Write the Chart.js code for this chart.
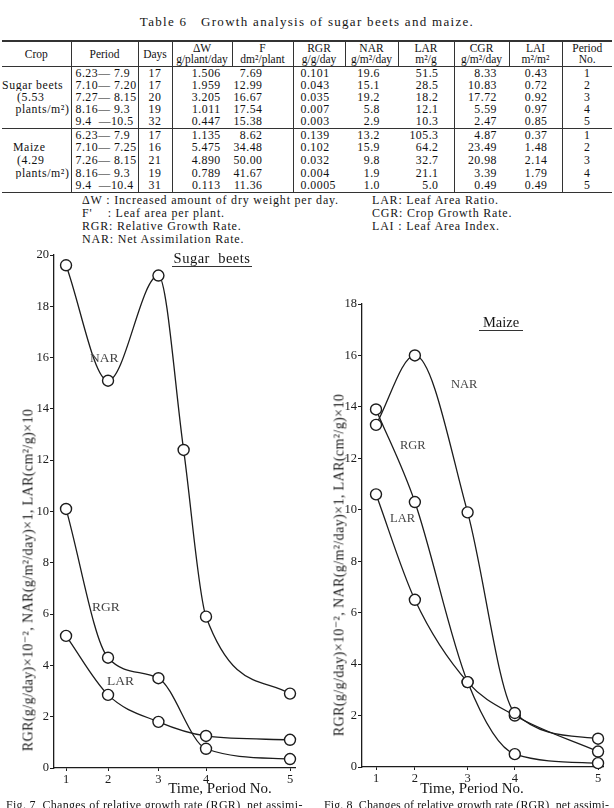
<!DOCTYPE html>
<html>
<head>
<meta charset="utf-8">
<script src="https://cdn.jsdelivr.net/npm/chart.js@4.4.1/dist/chart.umd.min.js"></script>
<style>
  body { margin: 0; width: 614px; height: 808px; position: relative; overflow: hidden; background: #fff;
         font-family: "Liberation Serif", "DejaVu Serif", serif; color: #151515; }
  .t { position: absolute; white-space: pre; line-height: 14px; }
  #tbl { position: absolute; left: 2px; top: 40px; width: 610px; border-collapse: collapse; table-layout: fixed;
         font-size: 11.8px; letter-spacing: 0.5px; border-top: 2px solid #333; border-bottom: 1.5px solid #333; color: #111; }
  #tbl td, #tbl th { padding: 0; font-weight: normal; white-space: pre; line-height: 11px; overflow: hidden; }
  #tbl th { height: 24px; text-align: center; border-bottom: 1px solid #333; border-left: 1px solid #333;
            letter-spacing: 0; font-size: 11.5px; }
  #tbl th:first-child { border-left: none; }
  #tbl tr.b td { height: 12.2px; }
  #tbl tr.m td { height: 12.6px; }
  #tbl tr.sep td { border-top: 1px solid #333; }
  .bl { border-left: 1px solid #333; }
  canvas { position: absolute; }
  .rot { position: absolute; white-space: pre; font-size: 14px; letter-spacing: 0.4px; transform: translate(-50%, -50%) rotate(-90deg); }
</style>
</head>
<body>

<div class="t" id="ttl" style="left:0;width:614px;top:15px;text-align:center;font-size:13px;letter-spacing:1.3px;">Table 6   Growth analysis of sugar beets and maize.</div>

<table id="tbl">
  <colgroup>
    <col style="width:69px"><col style="width:67px"><col style="width:34px"><col style="width:60px">
    <col style="width:61px"><col style="width:52px"><col style="width:53px"><col style="width:56px">
    <col style="width:55px"><col style="width:53px"><col style="width:50px">
  </colgroup>
  <thead><tr>
    <th>Crop</th><th>Period</th><th>Days</th><th>ΔW<br>g/plant/day</th><th>F<br>dm²/plant</th>
    <th>RGR<br>g/g/day</th><th>NAR<br>g/m²/day</th><th>LAR<br>m²/g</th><th>CGR<br>g/m²/day</th>
    <th>LAI<br>m²/m²</th><th>Period<br>No.</th>
  </tr></thead>
  <tbody id="tbody"></tbody>
</table>

<div class="t" style="left:82px;top:193px;font-size:12px;letter-spacing:0.8px;">ΔW : Increased amount of dry weight per day.</div>
<div class="t" style="left:82px;top:206px;font-size:12px;letter-spacing:0.8px;">F'    : Leaf area per plant.</div>
<div class="t" style="left:82px;top:219px;font-size:12px;letter-spacing:0.8px;">RGR: Relative Growth Rate.</div>
<div class="t" style="left:82px;top:232px;font-size:12px;letter-spacing:0.8px;">NAR: Net Assimilation Rate.</div>
<div class="t" style="left:372px;top:193px;font-size:12px;letter-spacing:0.8px;">LAR: Leaf Area Ratio.</div>
<div class="t" style="left:372px;top:206px;font-size:12px;letter-spacing:0.8px;">CGR: Crop Growth Rate.</div>
<div class="t" style="left:372px;top:219px;font-size:12px;letter-spacing:0.8px;">LAI : Leaf Area Index.</div>

<canvas id="beetChart" width="310" height="560" style="left:0;top:240px;"></canvas>
<canvas id="maizeChart" width="304" height="560" style="left:310px;top:240px;"></canvas>

<div class="t" style="left:172px;top:251px;width:80px;text-align:center;font-size:14.5px;letter-spacing:0.5px;border-bottom:1px solid #333;padding-bottom:1px;">Sugar  beets</div>
<div class="t" style="left:479px;top:315px;width:44px;text-align:center;font-size:14.5px;border-bottom:1px solid #333;padding-bottom:1px;">Maize</div>

<div class="t" style="left:90px;top:351px;font-size:13.5px;color:#444;">NAR</div>
<div class="t" style="left:92px;top:600px;font-size:13.5px;color:#444;">RGR</div>
<div class="t" style="left:107px;top:674px;font-size:13.5px;color:#444;">LAR</div>
<div class="t" style="left:451px;top:377px;font-size:12.5px;color:#444;">NAR</div>
<div class="t" style="left:400px;top:438px;font-size:12.5px;color:#444;">RGR</div>
<div class="t" style="left:390px;top:511px;font-size:12.5px;color:#444;">LAR</div>

<div class="rot" style="left:28px;top:580px;">RGR(g/g/day)×10⁻², NAR(g/m²/day)×1, LAR(cm²/g)×10</div>
<div class="rot" style="left:339px;top:565px;">RGR(g/g/day)×10⁻², NAR(g/m²/day)×1, LAR(cm²/g)×10</div>

<div class="t" style="left:120px;top:781px;width:200px;text-align:center;font-size:15px;">Time, Period No.</div>
<div class="t" style="left:372px;top:781px;width:200px;text-align:center;font-size:15px;">Time, Period No.</div>

<div class="t" style="left:6px;top:798px;font-size:12px;letter-spacing:0.3px;">Fig. 7  Changes of relative growth rate (RGR), net assimi-</div>
<div class="t" style="left:324px;top:798px;font-size:12px;letter-spacing:0.1px;">Fig. 8  Changes of relative growth rate (RGR), net assimi-</div>

<script>
// table 6 rows
const beetRows = [
  ['6.23— 7.9', '17', '1.506', '7.69', '0.101', '19.6', '51.5', '8.33', '0.43', '1'],
  ['7.10— 7.20', '17', '1.959', '12.99', '0.043', '15.1', '28.5', '10.83', '0.72', '2'],
  ['7.27— 8.15', '20', '3.205', '16.67', '0.035', '19.2', '18.2', '17.72', '0.92', '3'],
  ['8.16— 9.3', '19', '1.011', '17.54', '0.007', '5.8', '12.1', '5.59', '0.97', '4'],
  ['9.4  —10.5', '32', '0.447', '15.38', '0.003', '2.9', '10.3', '2.47', '0.85', '5']
];
const maizeRows = [
  ['6.23— 7.9', '17', '1.135', '8.62', '0.139', '13.2', '105.3', '4.87', '0.37', '1'],
  ['7.10— 7.25', '16', '5.475', '34.48', '0.102', '15.9', '64.2', '23.49', '1.48', '2'],
  ['7.26— 8.15', '21', '4.890', '50.00', '0.032', '9.8', '32.7', '20.98', '2.14', '3'],
  ['8.16— 9.3', '19', '0.789', '41.67', '0.004', '1.9', '21.1', '3.39', '1.79', '4'],
  ['9.4  —10.4', '31', '0.113', '11.36', '0.0005', '1.0', '5.0', '0.49', '0.49', '5']
];
const beetCrop = ['', 'Sugar beets', '(5.53', 'plants/m²)', ''];
const maizeCrop = ['', 'Maize', '(4.29', 'plants/m²)', ''];

// values (x = days from start of period 1)
const periodLabels = ['1', '2', '3', '4', '5'];
const beetTickX = [0, 15, 33, 50, 80];
const maizeTickX = [0, 14, 33, 50, 80];
const beetNarX = [0, 15, 33, 42, 50, 80];
const beetNar = [19.6, 15.1, 19.2, 12.4, 5.9, 2.9];
const beetRgr = [10.1, 4.3, 3.5, 0.75, 0.35];
const beetLar = [5.15, 2.85, 1.8, 1.25, 1.1];
const maizeNar = [13.3, 16.0, 9.9, 2.1, 1.1];
const maizeRgr = [13.9, 10.3, 3.3, 0.5, 0.15];
const maizeLar = [10.6, 6.5, 3.3, 2.0, 0.6];

const cellStyle = [
  'text-align:left;padding-left:4px', 'text-align:center', 'text-align:center;padding-left:8px',
  'text-align:right;padding-right:30px', 'text-align:left;padding-left:7px', 'text-align:right;padding-right:18px',
  'text-align:right;padding-right:15px', 'text-align:right;padding-right:12px', 'text-align:right;padding-right:14px',
  'text-align:center'
];
const withBorder = [true, true, true, false, true, false, false, true, false, true];
const cropStyle = ['', 'padding-left:0', 'padding-left:15px', 'text-align:right;padding-right:1px', ''];
const maizeCropStyle = ['', 'padding-left:11px', 'padding-left:15px', 'text-align:right;padding-right:1px', ''];

function addRows(rows, crop, cStyle, cls) {
  const body = document.getElementById('tbody');
  rows.forEach((r, i) => {
    const tr = document.createElement('tr');
    tr.className = cls + (i === 0 && cls === 'm' ? ' sep' : '');
    let html = `<td style="letter-spacing:0.6px;${cStyle[i]}">${crop[i]}</td>`;
    r.forEach((v, j) => {
      html += `<td class="${withBorder[j] ? 'bl' : ''}" style="${cellStyle[j]}">${v}</td>`;
    });
    tr.innerHTML = html;
    body.appendChild(tr);
  });
}
addRows(beetRows, beetCrop, cropStyle, 'b');
addRows(maizeRows, maizeCrop, maizeCropStyle, 'm');

const ink = '#1c1c1c';
const tickFont = { family: 'Liberation Serif', size: 12.5 };

function series(xs, ys) {
  return {
    data: ys.map((y, i) => ({ x: xs[i], y: y })),
    showLine: true,
    borderColor: ink,
    borderWidth: 1.3,
    cubicInterpolationMode: 'monotone',
    pointRadius: 5.5,
    pointBackgroundColor: '#fff',
    pointBorderColor: ink,
    pointBorderWidth: 1.4,
    clip: false
  };
}

function makeChart(id, datasets, tickX, xmin, ymax, yWidth, xHeight, pad) {
  return new Chart(document.getElementById(id).getContext('2d'), {
    type: 'scatter',
    data: { datasets: datasets },
    options: {
      responsive: false,
      animation: false,
      devicePixelRatio: 1,
      layout: { padding: pad },
      plugins: { legend: { display: false }, tooltip: { enabled: false } },
      scales: {
        x: {
          type: 'linear', min: xmin, max: 82,
          afterBuildTicks: s => { s.ticks = tickX.map(v => ({ value: v })); },
          afterFit: s => { s.height = xHeight; },
          ticks: { callback: (v, i) => periodLabels[i], font: tickFont, color: ink, padding: 1, maxRotation: 0, autoSkip: false },
          grid: { drawOnChartArea: false, tickLength: 3, color: ink },
          border: { color: ink, width: 1.3 }
        },
        y: {
          min: 0, max: ymax,
          afterFit: s => { s.width = yWidth; },
          ticks: { stepSize: 2, font: tickFont, color: ink, padding: 1 },
          grid: { drawOnChartArea: false, tickLength: 4, color: ink },
          border: { color: ink, width: 1.3 }
        }
      }
    }
  });
}

makeChart('beetChart', [
  series(beetNarX, beetNar),
  series(beetTickX, beetRgr),
  series(beetTickX, beetLar)
], beetTickX, -4.3, 20, 54, 32, { top: 15, right: 14.4, left: 0, bottom: 0 });

makeChart('maizeChart', [
  series(maizeTickX, maizeNar),
  series(maizeTickX, maizeRgr),
  series(maizeTickX, maizeLar)
], maizeTickX, -5.05, 18, 52, 33, { top: 64, right: 10.4, left: 0, bottom: 0 });
</script>
</body>
</html>
